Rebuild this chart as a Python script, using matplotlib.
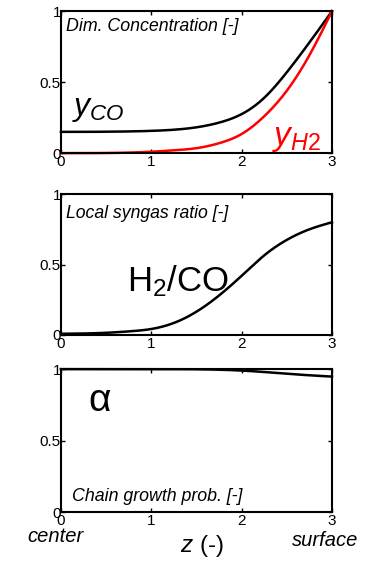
import matplotlib
matplotlib.use("Agg")
import matplotlib.pyplot as plt
import numpy as np

plt.rcParams["font.family"] = ["Liberation Sans", "DejaVu Sans"]
plt.rcParams["mathtext.fontset"] = "custom"
plt.rcParams["mathtext.rm"] = "Liberation Sans"
plt.rcParams["mathtext.it"] = "Liberation Sans:italic"

# ── data ────────────────────────────────────────────────────────────────────
z = [0.0, 0.25, 0.5, 0.75, 1.0, 1.25, 1.5, 1.75, 2.0, 2.25, 2.5, 2.75, 3.0]
y_co = [0.15, 0.15, 0.151, 0.153, 0.157, 0.165, 0.182, 0.215, 0.275,
        0.39, 0.57, 0.78, 1.0]
y_h2 = [0.0, 0.0, 0.001, 0.004, 0.01, 0.02, 0.035, 0.07, 0.135,
        0.26, 0.44, 0.69, 1.0]
ratio = [0.008, 0.01, 0.015, 0.025, 0.042, 0.085, 0.165, 0.28, 0.42,
         0.565, 0.675, 0.75, 0.80]
alpha = [1.0, 1.0, 1.0, 1.0, 1.0, 1.0, 0.999, 0.996, 0.99, 0.98,
         0.968, 0.957, 0.948]

xticks = [0, 1, 2, 3]
yticks = [0, 0.5, 1]
ytick_labels = ["0", "0.5", "1"]


def smooth(x, y, n=300):
    # natural cubic spline through the read points
    x = np.asarray(x, float); y = np.asarray(y, float)
    k = len(x); h = np.diff(x)
    A = np.zeros((k, k)); r = np.zeros(k)
    A[0, 0] = A[-1, -1] = 1
    for i in range(1, k - 1):
        A[i, i - 1] = h[i - 1]; A[i, i] = 2 * (h[i - 1] + h[i]); A[i, i + 1] = h[i]
        r[i] = 6 * ((y[i + 1] - y[i]) / h[i] - (y[i] - y[i - 1]) / h[i - 1])
    M = np.linalg.solve(A, r)
    xs = np.linspace(x[0], x[-1], n)
    j = np.clip(np.searchsorted(x, xs) - 1, 0, k - 2)
    a = x[j + 1] - xs; b = xs - x[j]; hj = h[j]
    ys = (M[j] * a**3 + M[j + 1] * b**3) / (6 * hj) \
        + (y[j] / hj - M[j] * hj / 6) * a + (y[j + 1] / hj - M[j + 1] * hj / 6) * b
    return xs, np.minimum(ys, 1.0)


fig = plt.figure(figsize=(3.76, 5.61), dpi=100)
left, width = 0.162, 0.721
ax1 = fig.add_axes([left, 0.727, width, 0.253])
ax2 = fig.add_axes([left, 0.403, width, 0.251])
ax3 = fig.add_axes([left, 0.087, width, 0.255])

for ax in (ax1, ax2, ax3):
    ax.set_xlim(0, 3)
    ax.set_ylim(0, 1)
    ax.set_xticks(xticks)
    ax.set_xticklabels([str(t) for t in xticks])
    ax.set_yticks(yticks)
    ax.set_yticklabels(ytick_labels)
    ax.tick_params(direction="in", top=True, right=True, length=3,
                   width=1.0, labelsize=11, color="black")
    ax.tick_params(axis="y", pad=0)
    ax.tick_params(axis="x", pad=1.5)
    for sp in ax.spines.values():
        sp.set_linewidth(1.5)

lw = 1.8
# ── panel 1: concentrations ────────────────────────────────────────────────
ax1.plot(*smooth(z, y_co), color="black", lw=lw, clip_on=False)
ax1.plot(*smooth(z, y_h2), color="#ff0000", lw=lw, clip_on=False)
ax1.text(0.02, 0.89, "Dim. Concentration [-]", transform=ax1.transAxes,
         style="italic", fontsize=12.8, va="center", ha="left")
ax1.text(0.04, 0.27, r"$y_{CO}$", transform=ax1.transAxes,
         fontsize=23, va="baseline", ha="left")
ax1.text(0.78, 0.055, r"$y_{H2}$", transform=ax1.transAxes,
         fontsize=24, va="baseline", ha="left", color="#ff0000")

# ── panel 2: syngas ratio ──────────────────────────────────────────────────
ax2.plot(*smooth(z, ratio), color="black", lw=lw, clip_on=False)
ax2.text(0.02, 0.86, "Local syngas ratio [-]", transform=ax2.transAxes,
         style="italic", fontsize=12.7, va="center", ha="left")
ax2.text(0.245, 0.38, r"$\mathrm{H_2/CO}$", transform=ax2.transAxes,
         fontsize=25, va="center", ha="left")

# ── panel 3: chain growth probability ─────────────────────────────────────
ax3.plot(*smooth(z, alpha), color="black", lw=lw, clip_on=False)
ax3.text(0.1, 0.78, "α", transform=ax3.transAxes,
         fontsize=28, va="center", ha="left")
ax3.text(0.04, 0.11, "Chain growth prob. [-]", transform=ax3.transAxes,
         style="italic", fontsize=12.8, va="center", ha="left")

fig.text(27 / 376, 1 - 537 / 561, "center", style="italic", fontsize=14.5,
         va="center", ha="left")
fig.text(358 / 376, 1 - 541 / 561, "surface", style="italic", fontsize=14.5,
         va="center", ha="right")
fig.text(202 / 376, 1 - 546 / 561, r"$z$ (-)", fontsize=17.5,
         va="center", ha="center")

fig.savefig("out.png", dpi=100, facecolor="white")
